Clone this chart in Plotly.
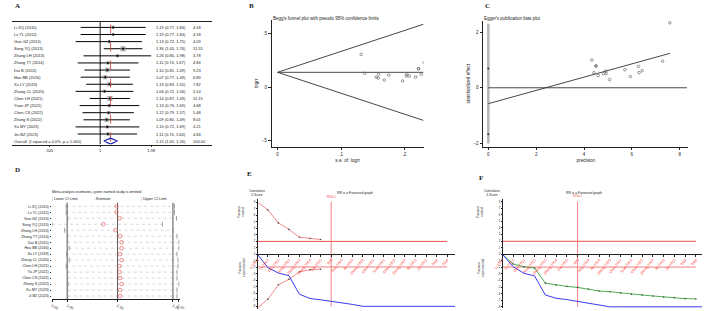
import numpy as np
import plotly.graph_objects as go

W, H = 708, 311
def px(x): return x / W
def py(y): return 1 - y / H

# ---------------- Panel A data ----------------
studies_a = ["Li XQ (2010)", "Lv YL (2012)", "Guo GZ (2013)", "Song YQ (2013)", "Zhang LH (2013)",
             "Zhang TT (2014)", "Dai B (2015)", "Hou BB (2016)", "Xu LY (2019)", "Zhang CL (2020)",
             "Chen LH (2021)", "Yuan JP (2021)", "Chen CS (2022)", "Zhong S (2022)", "Xu MY (2023)",
             "Jin BZ (2023)"]
rr = [1.19, 1.19, 1.13, 1.36, 1.26, 1.11, 1.10, 1.07, 1.13, 1.06, 1.14, 1.13, 1.12, 1.09, 1.10, 1.11]
rr_lo = [0.77, 0.77, 0.72, 1.05, 0.80, 0.74, 0.81, 0.77, 0.83, 0.72, 0.87, 0.76, 0.79, 0.80, 0.72, 0.74]
rr_hi = [1.84, 1.84, 1.75, 1.76, 1.98, 1.67, 1.49, 1.49, 1.55, 1.56, 1.49, 1.69, 1.57, 1.49, 1.69, 1.64]
weights = [4.18, 4.18, 4.09, 11.55, 3.78, 4.84, 9.23, 6.89, 7.82, 5.14, 11.15, 4.68, 5.48, 8.01, 4.21, 4.84]
overall_label = "Overall  (I-squared = 0.0%, p = 1.000)"
overall_rr, overall_lo, overall_hi = 1.15, 1.05, 1.26
a_ticks = [0.505, 1, 1.98]
a_ticktext = [".505", "1", "1.98"]

# ---------------- Panel B/C data (derived from A) ----------------
logrr = np.log(rr)
se = (np.log(rr_hi) - np.log(rr_lo)) / 3.92
pooled = np.log(overall_rr)
precision = 1 / se
snd = logrr / se
egger_b, egger_a = np.polyfit(precision, snd, 1)
egger_ci = [-1.67, 0.69]
egger_bar = [-2.0, 2.3]

# ---------------- Panel D data ----------------
studies_d = ["Li XQ (2010)", "Lv YL (2012)", "Guo GZ (2013)", "Song YQ (2013)", "Zhang LH (2013)",
             "Zhang TT (2014)", "Dai B (2015)", "Hou BB (2016)", "Xu LY (2019)", "Zhang CL (2020)",
             "Chen LH (2021)", "Yu JP (2021)", "Chen CS (2022)", "Zhong S (2022)", "Xu MY (2023)",
             "Ji BZ (2023)"]
d_est = [1.148, 1.148, 1.154, 1.122, 1.146, 1.155, 1.158, 1.158, 1.155, 1.158, 1.154, 1.154, 1.155, 1.158, 1.155, 1.155]
d_lo = [1.048, 1.048, 1.051, 1.020, 1.045, 1.051, 1.051, 1.054, 1.049, 1.054, 1.048, 1.051, 1.051, 1.052, 1.051, 1.051]
d_hi = [1.263, 1.263, 1.267, 1.239, 1.260, 1.268, 1.272, 1.272, 1.268, 1.270, 1.270, 1.268, 1.268, 1.272, 1.268, 1.268]
d_ref = [1.05, 1.15, 1.26]
d_ticks = [1.02, 1.05, 1.15, 1.26, 1.27]

# ---------------- Panel E/F data (TSA) ----------------
tsa_labels = ["Li 2010", "Lv 2012", "Guo 2013", "Song 2013", "Zhang 2013", "Zhang 2014", "Dai 2015",
              "RIS", "Hou 2016", "Xu 2019", "Zhang 2020", "Chen 2021", "Yuan 2021", "Chen 2022",
              "Zhong 2022", "Xu 2023", "Jin 2023", "Total", "Total"]
e_bound_up = [8.0, 6.8, 4.8, 3.8, 2.6, 2.4, 2.25]
e_bound_lo = [-8.3, -6.9, -4.7, -3.85, -2.7, -2.4, -2.3]
e_z = [0, -2.05, -2.9, -3.3, -6.15, -6.8, -7.0, -7.2, -7.4, -7.7, -8.0, -8.0, -8.0, -8.0, -8.0, -8.0, -8.0, -8.0, -8.0, -8.0]
e_zx = list(range(19)) + [18.74]
f_z = [0, -1.9, -2.9, -3.3, -6.2, -6.7, -6.9, -7.2, -7.5, -7.7, -8.0, -8.0, -8.0, -8.0, -8.0, -8.0, -8.0, -8.0, -8.0, -8.0]
f_zx = list(range(19)) + [18.57]
f_green = [0, -1.5, -1.9, -2.1, -4.4, -4.7, -4.9, -5.05, -5.3, -5.6, -5.7, -5.9, -6.1, -6.2, -6.35, -6.5, -6.6, -6.75, -6.8]
z_crit = 1.96
ris_index = 7

FONT = "Liberation Sans"
fig = go.Figure()
ann = []
shapes = []
FA = 4.0

# =============== Panel A ===============
n = len(studies_a)
ci_x, ci_y = [], []
for i in range(n):
    ci_x += [rr_lo[i], rr_hi[i], None]
    ci_y += [i, i, None]
fig.add_trace(go.Scatter(x=ci_x, y=ci_y, mode="lines", line=dict(color="black", width=1), xaxis="x", yaxis="y", hoverinfo="skip"))
fig.add_trace(go.Scatter(x=rr, y=list(range(n)), mode="markers",
                         marker=dict(symbol="square", color="#8c8c8c", size=[1.5 * np.sqrt(w) for w in weights], line=dict(width=0)),
                         xaxis="x", yaxis="y"))
fig.add_trace(go.Scatter(x=rr, y=list(range(n)), mode="markers", marker=dict(symbol="diamond", color="black", size=2),
                         xaxis="x", yaxis="y"))
fig.add_trace(go.Scatter(x=[1, 1], y=[-0.77, 16.48], mode="lines", line=dict(color="black", width=0.9), xaxis="x", yaxis="y"))
fig.add_trace(go.Scatter(x=[overall_rr, overall_rr], y=[-0.4, 16.48], mode="lines", line=dict(color="#c0392b", width=0.8, dash="dash"), xaxis="x", yaxis="y"))
fig.add_trace(go.Scatter(x=[overall_lo, overall_rr, overall_hi, overall_rr, overall_lo], y=[n, n - 0.42, n, n + 0.42, n],
                         mode="lines", line=dict(color="#1a1aa6", width=1.1), xaxis="x", yaxis="y"))
for i in range(n):
    ann.append(dict(x=px(3), y=i, xref="paper", yref="y", text=studies_a[i], showarrow=False, xanchor="left", font=dict(size=FA)))
    ann.append(dict(x=px(148), y=i, xref="paper", yref="y", text=f"{rr[i]:.2f} ({rr_lo[i]:.2f}, {rr_hi[i]:.2f})", showarrow=False, xanchor="left", font=dict(size=FA)))
    ann.append(dict(x=px(186), y=i, xref="paper", yref="y", text=f"{weights[i]:.2f}", showarrow=False, xanchor="left", font=dict(size=FA)))
ann.append(dict(x=px(3), y=n, xref="paper", yref="y", text=overall_label, showarrow=False, xanchor="left", font=dict(size=FA)))
ann.append(dict(x=px(148), y=n, xref="paper", yref="y", text=f"{overall_rr:.2f} ({overall_lo:.2f}, {overall_hi:.2f})", showarrow=False, xanchor="left", font=dict(size=FA)))
ann.append(dict(x=px(186), y=n, xref="paper", yref="y", text="100.00", showarrow=False, xanchor="left", font=dict(size=FA)))
for xx, t in [(3, "Study ID"), (148, "RR (95% CI)"), (186, "Weight %")]:
    ann.append(dict(x=px(xx), y=-1.35, xref="paper", yref="y", text=t, showarrow=False, xanchor="left", font=dict(size=FA)))

# =============== Panel B ===============
semax = 0.23
fig.add_trace(go.Scatter(x=[0, semax], y=[pooled, pooled], mode="lines", line=dict(color="#333", width=0.9), xaxis="x2", yaxis="y2"))
fig.add_trace(go.Scatter(x=[0, semax], y=[pooled, pooled + z_crit * semax], mode="lines", line=dict(color="#333", width=0.9), xaxis="x2", yaxis="y2"))
fig.add_trace(go.Scatter(x=[0, semax], y=[pooled, pooled - z_crit * semax], mode="lines", line=dict(color="#333", width=0.9), xaxis="x2", yaxis="y2"))
fig.add_trace(go.Scatter(x=se, y=logrr, mode="markers", marker=dict(symbol="circle-open", color="#555", size=2.6, line=dict(width=0.6)), xaxis="x2", yaxis="y2"))
ann.append(dict(x=px(267), y=py(14), xref="paper", yref="paper", text="Begg's funnel plot with pseudo 95% confidence limits", showarrow=False, xanchor="left", font=dict(size=4.5)))

# =============== Panel C ===============
fig.add_trace(go.Scatter(x=[0, 0], y=egger_bar, mode="lines", line=dict(color="#b5b5b5", width=2.5), xaxis="x3", yaxis="y3"))
fig.add_trace(go.Scatter(x=[0, 0], y=egger_ci, mode="markers", marker=dict(color="#333", size=2), xaxis="x3", yaxis="y3"))
fig.add_trace(go.Scatter(x=[0, 8.3], y=[0, 0], mode="lines", line=dict(color="#333", width=0.9), xaxis="x3", yaxis="y3"))
pmax = float(np.max(precision))
fig.add_trace(go.Scatter(x=[0, pmax], y=[egger_a, egger_a + egger_b * pmax], mode="lines", line=dict(color="#333", width=0.9), xaxis="x3", yaxis="y3"))
fig.add_trace(go.Scatter(x=precision, y=snd, mode="markers", marker=dict(symbol="circle-open", color="#555", size=2.6, line=dict(width=0.6)), xaxis="x3", yaxis="y3"))
ann.append(dict(x=px(483), y=py(14), xref="paper", yref="paper", text="Egger's publication bias plot", showarrow=False, xanchor="left", font=dict(size=4.5)))

# =============== Panel D ===============
m = len(studies_d)
dx, dy = [], []
for i in range(m):
    dx += [d_lo[i], d_hi[i], None]
    dy += [i, i, None]
fig.add_trace(go.Scatter(x=dx, y=dy, mode="lines", line=dict(color="#c8c8c8", width=0.7, dash="dot"), xaxis="x4", yaxis="y4"))
for v in d_ref:
    fig.add_trace(go.Scatter(x=[v, v], y=[-0.6, 15.5], mode="lines", line=dict(color="#444", width=0.9), xaxis="x4", yaxis="y4"))
fig.add_trace(go.Scatter(x=d_lo, y=list(range(m)), mode="markers", marker=dict(symbol="line-ns", size=3.5, line=dict(color="#888", width=0.8)), xaxis="x4", yaxis="y4"))
fig.add_trace(go.Scatter(x=d_hi, y=list(range(m)), mode="markers", marker=dict(symbol="line-ns", size=3.5, line=dict(color="#888", width=0.8)), xaxis="x4", yaxis="y4"))
fig.add_trace(go.Scatter(x=d_est, y=list(range(m)), mode="markers", marker=dict(symbol="circle-open", size=3.6, color="#e8706a", line=dict(width=0.8)), xaxis="x4", yaxis="y4"))
FD = 3.7
ann.append(dict(x=px(42), y=py(193), xref="paper", yref="paper", text="Meta-analysis estimates, given named study is omitted", showarrow=False, xanchor="left", font=dict(size=FD)))
ann.append(dict(x=px(42), y=py(199.5), xref="paper", yref="paper", text="<span style='color:#888'>|</span> Lower CI Limit", showarrow=False, xanchor="left", font=dict(size=FD)))
ann.append(dict(x=px(85), y=py(199.5), xref="paper", yref="paper", text="<span style='color:#e8706a'>○</span>Estimate", showarrow=False, xanchor="left", font=dict(size=FD)))
ann.append(dict(x=px(133), y=py(199.5), xref="paper", yref="paper", text="<span style='color:#888'>|</span> Upper CI Limit", showarrow=False, xanchor="left", font=dict(size=FD)))

# =============== Panels E / F ===============
def tsa_panel(xa, ya, zx, zvals, label_x, top_y, title_x, green=None, bounds=None):
    fig.add_trace(go.Scatter(x=[0, 18], y=[z_crit, z_crit], mode="lines", line=dict(color="#e85050", width=1), xaxis=xa, yaxis=ya))
    fig.add_trace(go.Scatter(x=[0, 18], y=[-z_crit, -z_crit], mode="lines", line=dict(color="#f08080", width=1), xaxis=xa, yaxis=ya))
    fig.add_trace(go.Scatter(x=[ris_index, ris_index], y=[-8, 8], mode="lines", line=dict(color="#f08080", width=1), xaxis=xa, yaxis=ya))
    if bounds is not None:
        up, lo = bounds
        fig.add_trace(go.Scatter(x=list(range(len(up))), y=up, mode="lines+markers", line=dict(color="#f08080", width=0.9), marker=dict(color="#444", size=1.6), xaxis=xa, yaxis=ya))
        fig.add_trace(go.Scatter(x=list(range(len(lo))), y=lo, mode="lines+markers", line=dict(color="#f08080", width=0.9), marker=dict(color="#444", size=1.6), xaxis=xa, yaxis=ya))
    if green is not None:
        fig.add_trace(go.Scatter(x=list(range(len(green))), y=green, mode="lines+markers", line=dict(color="#4caf50", width=1), marker=dict(color="#444", size=1.6), xaxis=xa, yaxis=ya))
    fig.add_trace(go.Scatter(x=zx, y=zvals, mode="lines", line=dict(color="#3b3bf0", width=1), xaxis=xa, yaxis=ya))
    ann.append(dict(x=ris_index, y=8.2, xref=xa, yref=ya, text="RIS=1", showarrow=False, yanchor="bottom", font=dict(size=3.2, color="#e85050")))
    ann.append(dict(x=px(label_x), y=py(top_y), xref="paper", yref="paper", text="Cumulative<br>Z-Score", showarrow=False, yanchor="bottom", font=dict(size=3.2)))
    ann.append(dict(x=px(title_x), y=py(194), xref="paper", yref="paper", text="RR is a Favoured graph", showarrow=False, font=dict(size=3.4)))

tsa_panel("x5", "y5", e_zx, e_z, 253, 200, 353, bounds=(e_bound_up, e_bound_lo))
tsa_panel("x6", "y6", f_zx, f_z, 503, 200, 607, green=f_green)
for (xx, yy) in [(237, 220), (487, 220)]:
    ann.append(dict(x=px(xx), y=py(yy), xref="paper", yref="paper", text="Favours<br>control", showarrow=False, textangle=-90, font=dict(size=3.2)))
for (xx, yy) in [(237, 280), (487, 280)]:
    ann.append(dict(x=px(xx), y=py(yy), xref="paper", yref="paper", text="Favours<br>experimental", showarrow=False, textangle=-90, font=dict(size=3.2)))

# Panel letters
for t, xx, yy in [("A", 4, 6), ("B", 243, 6), ("C", 484, 6), ("D", 4, 171), ("E", 241, 175), ("F", 477, 179)]:
    ann.append(dict(x=px(xx), y=py(yy), xref="paper", yref="paper", text=f"<b>{t}</b>", showarrow=False, xanchor="left", yanchor="middle",
                    font=dict(size=7, family="Liberation Serif")))

axis_common = dict(showgrid=False, zeroline=False, linecolor="#222", linewidth=0.8, tickcolor="#222", tickwidth=0.7,
                   tickfont=dict(size=4.5, family=FONT), ticks="outside", ticklen=2)

a_left = (3 - 93) / 175.3
a_right = (207 - 93) / 175.3
tsa_tickfont = dict(size=3.6, color="#ff3030", family="Liberation Sans")
layout = dict(
    width=W, height=H, margin=dict(l=0, r=0, t=0, b=0), showlegend=False,
    paper_bgcolor="white", plot_bgcolor="rgba(0,0,0,0)", font=dict(family=FONT, color="#222"),
    xaxis=dict(axis_common, type="log", domain=[px(3), px(207)], range=[a_left, a_right], tickvals=a_ticks, ticktext=a_ticktext,
               showline=True, mirror=True, anchor="y", tickfont=dict(size=FA)),
    yaxis=dict(domain=[py(145), py(22)], range=[16.48, -0.77], visible=False, anchor="x"),
    xaxis2=dict(axis_common, domain=[px(268), px(423)], range=[-0.0093, 0.2303], tickvals=[0, 0.1, 0.2], ticktext=["0", ".1", ".2"],
                showline=True, anchor="y2", ticklen=3, title=dict(text="s.e. of: logrr", font=dict(size=4.7), standoff=2)),
    yaxis2=dict(axis_common, domain=[py(147), py(20)], range=[-0.556, 0.631], tickvals=[-0.5, 0, 0.5], ticktext=["-.5", "0", ".5"],
                showline=True, anchor="x2", ticklen=3, title=dict(text="logrr", font=dict(size=4.7), standoff=2)),
    xaxis3=dict(axis_common, domain=[px(484), px(693)], range=[-0.205, 8.36], tickvals=[0, 2, 4, 6, 8],
                showline=True, anchor="y3", ticklen=3, title=dict(text="precision", font=dict(size=4.7), standoff=2)),
    yaxis3=dict(axis_common, domain=[py(147), py(21)], range=[-2.11, 2.4], tickvals=[-2, 0, 2],
                showline=True, anchor="x3", ticklen=3, title=dict(text="standardized effect", font=dict(size=4.7), standoff=2)),
    xaxis4=dict(axis_common, domain=[px(43.9), px(174)], range=[1.02, 1.2731], tickvals=d_ticks, ticktext=[f"{v:.2f}" for v in d_ticks],
                showline=True, anchor="y4", tickfont=dict(size=FD)),
    yaxis4=dict(axis_common, domain=[py(300), py(202)], range=[15.5, -0.83], tickvals=list(range(m)), ticktext=studies_d,
                showline=False, anchor="x4", tickfont=dict(size=FD), ticklen=1.5),
    xaxis5=dict(axis_common, domain=[px(253.3), px(455)], range=[0, 18.74], tickvals=list(range(19)), ticktext=tsa_labels,
                tickangle=-50, tickfont=tsa_tickfont, showline=True, anchor="free", position=py(255), ticklen=1.5),
    yaxis5=dict(axis_common, domain=[py(310), py(200)], range=[-8.41, 8.41], tickvals=list(range(-8, 9)), tickfont=dict(size=2.8),
                showline=True, anchor="free", position=px(253.3), ticklen=1.5),
    xaxis6=dict(axis_common, domain=[px(503.3), px(707)], range=[0, 18.57], tickvals=list(range(19)), ticktext=tsa_labels,
                tickangle=-50, tickfont=tsa_tickfont, showline=True, anchor="free", position=py(255), ticklen=1.5),
    yaxis6=dict(axis_common, domain=[py(309), py(200)], range=[-8.18, 8.33], tickvals=list(range(-8, 9)), tickfont=dict(size=2.8),
                showline=True, anchor="free", position=px(503.3), ticklen=1.5),
    annotations=ann, shapes=shapes,
)
fig.update_layout(**layout)
fig.write_html("out.html")
